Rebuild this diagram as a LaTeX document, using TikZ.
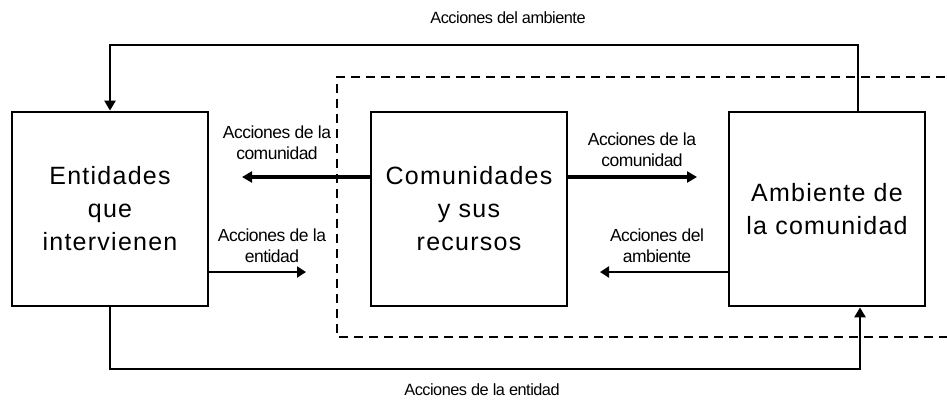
\documentclass[tikz,border=0pt]{standalone}
\usepackage{fontspec}
\setmainfont{Liberation Sans}
\usetikzlibrary{arrows.meta}
\begin{document}
\begin{tikzpicture}[x=1pt,y=-1pt,
  box/.style={draw,line width=2.8pt,rectangle,minimum width=196pt,minimum height=194pt,inner sep=0pt,align=center,
    font=\fontsize{25}{33}\selectfont\addfontfeatures{LetterSpace=5}},
  lbl/.style={align=center,inner sep=0pt,font=\fontsize{17.5}{21}\selectfont\addfontfeatures{LetterSpace=-3}},
  toplbl/.style={inner sep=0pt,font=\fontsize{16.3}{20}\selectfont\addfontfeatures{LetterSpace=-3}},
  loopline/.style={line width=2.8pt},
  thickarr/.style={line width=3.8pt,-{Triangle[length=10pt,width=11pt]}},
  thinarr/.style={line width=2.2pt,-{Triangle[length=9pt,width=11pt]}},
  dashbox/.style={line width=2.4pt,dash pattern=on 9pt off 6pt}
]
\useasboundingbox (0,0) rectangle (947,402);
\fill[white] (0,0) rectangle (947,402);
% dashed region
\draw[dashbox] (960,77) -- (337,77) -- (337,337) -- (960,337);
% boxes
\node[box] (b1) at (110,209) {Entidades\\que\\intervienen};
\node[box] (b2) at (469,209) {Comunidades\\y sus\\recursos};
\node[box] (b3) at (827,209) {Ambiente de\\la comunidad};
% coordinates
\coordinate (topY) at (500,45);
\coordinate (botY) at (500,369);
\coordinate (t1) at (242,177);
\coordinate (t2) at (306,272);
\coordinate (t3) at (697,177);
\coordinate (t4) at (600,272);
% loops
\draw[loopline,-{Triangle[length=10pt,width=11pt]}] ([xshift=31pt]b3.north) |- (topY) -| (b1.north);
\draw[loopline,-{Triangle[length=10pt,width=11pt]}] (b1.south) |- (botY) -| ([xshift=33pt]b3.south);
% inner arrows
\draw[thickarr] (b2.west |- t1) -- (t1);
\draw[thinarr] (b1.east |- t2) -- (t2);
\draw[thickarr] (b2.east |- t3) -- (t3);
\draw[thinarr] (b3.west |- t4) -- (t4);
% labels
\node[lbl] (l1) at (277,143) {Acciones de la\\comunidad};
\node[lbl] (l2) at (272,246) {Acciones de la\\entidad};
\node[lbl] (l3) at (642,150) {Acciones de la\\comunidad};
\node[lbl] (l4) at (657,246) {Acciones del\\ambiente};
\node[toplbl] (l5) at (508,18) {Acciones del ambiente};
\node[toplbl] (l6) at (482,390) {Acciones de la entidad};
\end{tikzpicture}
\end{document}
